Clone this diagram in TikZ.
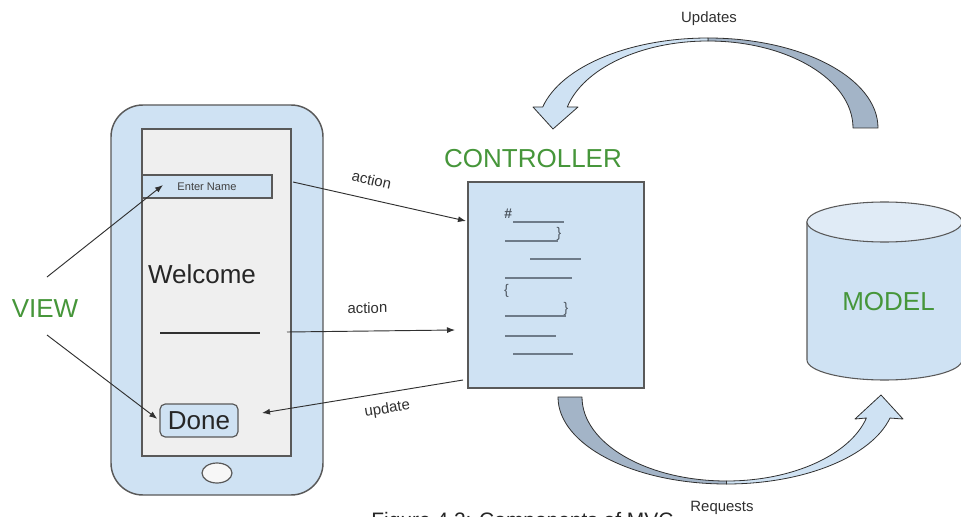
\documentclass[tikz,border=0pt]{standalone}
\usepackage{fontspec}
\setmainfont{Liberation Sans}
\usetikzlibrary{arrows.meta,shapes.geometric}

\definecolor{paleblue}{HTML}{CFE2F3}
\definecolor{capblue}{HTML}{E0EBF6}
\definecolor{slateblue}{HTML}{A3B4C7}
\definecolor{screengray}{HTML}{EFEFEF}
\definecolor{edgegray}{HTML}{595959}
\definecolor{labelgreen}{HTML}{46963A}
\definecolor{inkgray}{HTML}{303030}
\definecolor{codegray}{HTML}{6E7B89}

\begin{document}
\begin{tikzpicture}[x=0.75pt,y=-0.75pt,
  shell/.style={draw=edgegray, line width=1.1pt, fill=paleblue, rounded corners=24pt, inner sep=0pt},
  panel/.style={draw=edgegray, line width=0.9pt, fill=paleblue, inner sep=0pt},
  flow/.style={draw=inkgray, line width=0.7pt, -{Latex[length=6pt,width=4.5pt]}},
  backflow/.style={draw=inkgray, line width=0.7pt, {Latex[length=6pt,width=4.5pt]}-},
  biglabel/.style={text=labelgreen, font=\fontsize{19.5}{22}\selectfont, inner sep=0pt},
  bigtext/.style={text=black!85, font=\fontsize{19.5}{22}\selectfont, inner sep=0pt},
  smalllabel/.style={text=inkgray, font=\fontsize{11.2}{13}\selectfont, inner sep=1pt},
  codeline/.style={draw=codegray, line width=1pt},
  codemark/.style={text=codegray!70!black, font=\fontsize{10.5}{12}\selectfont, inner sep=0pt},
  bendarrow/.style={draw=inkgray, line width=0.6pt, line join=round}
]
\useasboundingbox (0,0) rectangle (961,517);
\fill[white] (0,0) rectangle (961,517);
\clip (0,0) rectangle (961,517);

% ---------- phone (view) ----------
\node[shell, minimum width=159pt, minimum height=292.5pt] (phone) at (217,300) {};
\node[panel, fill=screengray, minimum width=111.75pt, minimum height=245.25pt] (screen) at (216.5,292.5) {};
\node[panel, minimum width=97.5pt, minimum height=17.25pt,
      font=\fontsize{8.3}{9}\selectfont, text=black!75] (namebox) at (207,186.5) {Enter Name};
\node[bigtext, anchor=base] (welcome) at (202,283) {Welcome};
\coordinate (blankL) at (160,333);
\coordinate (blankR) at (260,333);
\draw[draw=inkgray, line width=0.8pt] (blankL) -- (blankR);
\node[panel, rounded corners=4pt, minimum width=58.5pt, minimum height=24.75pt,
      font=\fontsize{19.5}{22}\selectfont, text=black!85] (done) at (199,420.5) {Done};
\node[draw=edgegray, line width=0.9pt, fill=white!97!black, ellipse,
      minimum width=22.5pt, minimum height=15pt, inner sep=0pt] (home) at (217,473) {};

% ---------- VIEW label and its pointers ----------
\node[biglabel, anchor=base] (view) at (45,317) {VIEW};
\coordinate (viewUp) at (47,277);
\coordinate (viewDown) at (47,335);
\coordinate (nameHit) at (163,185);
\draw[flow] (viewUp) -- (nameHit);
\draw[flow, shorten >=2pt] (viewDown) -- (done.west);

% ---------- controller ----------
\node[biglabel, anchor=base] (ctrltitle) at (533,167) {CONTROLLER};
\node[panel, minimum width=132pt, minimum height=154.5pt] (ctrl) at (556,285) {};

% sketch of code lines on the controller sheet
\node[codemark, font=\fontsize{10.5}{12}\selectfont\bfseries\itshape] (hash) at (508,214) {\#};
\draw[codeline] (513,222) -- (564,222);
\draw[codeline] (505,241) -- (558,241);
\node[codemark] (brA) at (559,234) {\}};
\draw[codeline] (530,259) -- (581,259);
\draw[codeline] (505,278) -- (572,278);
\node[codemark] (brB) at (506.5,291) {\{};
\draw[codeline] (505,316) -- (566,316);
\node[codemark] (brC) at (566,309) {\}};
\draw[codeline] (505,336) -- (556,336);
\draw[codeline] (513,354) -- (573,354);

% ---------- view <-> controller messages ----------
\coordinate (act1From) at (293,182);
\coordinate (act1To) at (466,221);
\coordinate (act2From) at (287,332);
\coordinate (act2To) at (455,330);
\coordinate (updTo) at (262,413);
\coordinate (updFrom) at (463,380);
\draw[flow] (act1From) -- node[pos=0.43, sloped, above=9pt, smalllabel] (act1lbl) {action} (act1To);
\draw[flow] (act2From) -- node[pos=0.48, sloped, above=12pt, smalllabel] (act2lbl) {action} (act2To);
\draw[backflow] (updTo) -- node[pos=0.61, sloped, below=6pt, smalllabel] (updlbl) {update} (updFrom);

% ---------- model ----------
\path[fill=paleblue, draw=edgegray, line width=0.8pt]
  (807,222) -- (807,360) arc[start angle=180, end angle=0, x radius=77.5, y radius=20]
  -- (962,222) -- cycle;
\draw[fill=capblue, draw=edgegray, line width=0.8pt] (884.5,222) ellipse[x radius=77.5, y radius=20];
\node[biglabel, anchor=base] (model) at (888.5,310) {MODEL};

% ---------- curved arrow: model updates controller ----------
\path[bendarrow, fill=slateblue]
  (878,128) arc[start angle=0, end angle=-90, x radius=170, y radius=90]
  -- (708,41) arc[start angle=-90, end angle=0, x radius=145, y radius=87] -- cycle;
\path[bendarrow, fill=paleblue]
  (708,38) arc[start angle=-90, end angle=-166.5, x radius=170, y radius=90]
  -- (533,107) -- (553,129) -- (578,107) -- (567.3,107)
  arc[start angle=-166.03, end angle=-90, x radius=145, y radius=87] -- cycle;
\node[smalllabel] (updates) at (709,19) {Updates};

% ---------- curved arrow: controller requests model ----------
\path[bendarrow, fill=slateblue]
  (558,397) arc[start angle=180, end angle=90, x radius=168.5, y radius=87]
  -- (726.5,481) arc[start angle=90, end angle=180, x radius=144.5, y radius=84] -- cycle;
\path[bendarrow, fill=paleblue]
  (726.5,484) arc[start angle=90, end angle=14, x radius=168.5, y radius=87]
  -- (903,419) -- (881,395) -- (855,419) -- (866.4,418)
  arc[start angle=14.48, end angle=90, x radius=144.5, y radius=84] -- cycle;
\node[smalllabel] (requests) at (722,508) {Requests};

% ---------- caption, running off the lower edge ----------
\node[anchor=base, inner sep=0pt, text=black!85, font=\fontsize{15.7}{18}\selectfont] (caption)
  at (522.5,527) {Figure 4.2: Components of MVC};
\end{tikzpicture}
\end{document}
